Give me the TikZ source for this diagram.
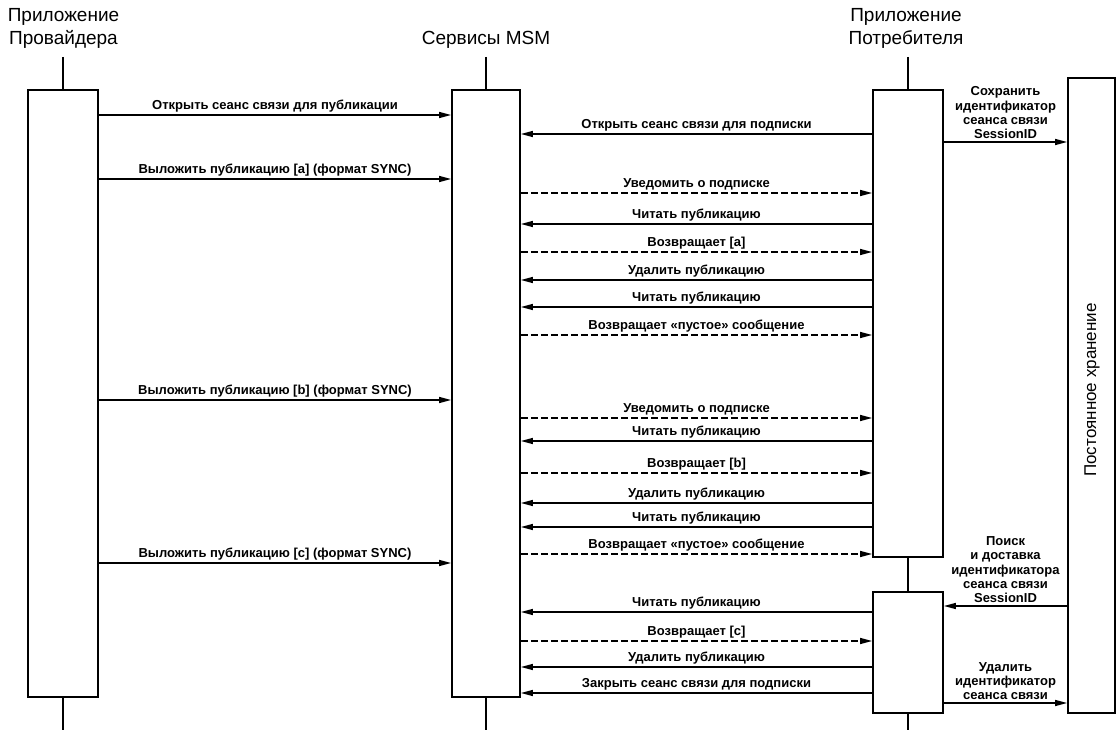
\documentclass[tikz,border=0pt]{standalone}
\usepackage{fontspec}
\setmainfont{Liberation Sans}
\usetikzlibrary{arrows.meta}

\begin{document}
\begin{tikzpicture}[x=1pt, y=-1pt,
		box/.style={draw, line width=1.8pt, inner sep=0pt},
		life/.style={line width=1.8pt},
		msg/.style={-{Triangle[length=12pt,width=6pt]}, line width=1.4pt},
		ret/.style={msg, dash pattern=on 7pt off 3pt},
		lbl/.style={midway, above, inner sep=2.5pt, align=center, font=\fontsize{13}{14.3}\selectfont\bfseries},
		head/.style={inner sep=0pt, align=center, font=\fontsize{19}{22.5}\selectfont}]
		\useasboundingbox (0,0) rectangle (1119,730);
		\node[head] (provhead) at (63.5,28.5) {Приложение\\Провайдера};
		\node[head] (msmhead) at (486,40) {Сервисы MSM};
		\node[head] (conshead) at (906,28.5) {Приложение\\Потребителя};
		\node[box, minimum width=70pt, minimum height=607pt] (prov) at (63,393.5) {};
		\node[box, minimum width=68pt, minimum height=607pt] (msm) at (486,393.5) {};
		\node[box, minimum width=70pt, minimum height=467pt] (cons1) at (908,323.5) {};
		\node[box, minimum width=70pt, minimum height=121pt] (cons2) at (908,652.5) {};
		\node[box, minimum width=47pt, minimum height=635pt] (store) at (1091.5,395.5) {};
		\node[rotate=90, inner sep=0pt, font=\fontsize{17}{19}\selectfont] (storetxt) at (1092,390) {Постоянное хранение};
		\coordinate (provtop) at (63,57);
		\coordinate (provend) at (63,730);
		\coordinate (msmtop) at (486,57);
		\coordinate (msmend) at (486,730);
		\coordinate (constop) at (908,57);
		\coordinate (consend) at (908,730);
		\draw[life] (provtop) -- (prov.north) (prov.south) -- (provend);
		\draw[life] (msmtop) -- (msm.north) (msm.south) -- (msmend);
		\draw[life] (constop) -- (cons1.north) (cons1.south) -- (cons2.north) (cons2.south) -- (consend);
		\draw[msg] (prov.east |- 0,115) -- (msm.west |- 0,115) node[lbl] {Открыть сеанс связи для публикации};
		\draw[msg] (cons1.west |- 0,134) -- (msm.east |- 0,134) node[lbl] {Открыть сеанс связи для подписки};
		\draw[msg] (cons1.east |- 0,142) -- (store.west |- 0,142) node[lbl] {Сохранить\\идентификатор\\сеанса связи\\SessionID};
		\draw[msg] (prov.east |- 0,179) -- (msm.west |- 0,179) node[lbl] {Выложить публикацию [a] (формат SYNC)};
		\draw[ret] (msm.east |- 0,193) -- (cons1.west |- 0,193) node[lbl] {Уведомить о подписке};
		\draw[msg] (cons1.west |- 0,224) -- (msm.east |- 0,224) node[lbl] {Читать публикацию};
		\draw[ret] (msm.east |- 0,252) -- (cons1.west |- 0,252) node[lbl] {Возвращает [a]};
		\draw[msg] (cons1.west |- 0,280) -- (msm.east |- 0,280) node[lbl] {Удалить публикацию};
		\draw[msg] (cons1.west |- 0,307) -- (msm.east |- 0,307) node[lbl] {Читать публикацию};
		\draw[ret] (msm.east |- 0,335) -- (cons1.west |- 0,335) node[lbl] {Возвращает «пустое» сообщение};
		\draw[msg] (prov.east |- 0,400) -- (msm.west |- 0,400) node[lbl] {Выложить публикацию [b] (формат SYNC)};
		\draw[ret] (msm.east |- 0,418) -- (cons1.west |- 0,418) node[lbl] {Уведомить о подписке};
		\draw[msg] (cons1.west |- 0,441) -- (msm.east |- 0,441) node[lbl] {Читать публикацию};
		\draw[ret] (msm.east |- 0,473) -- (cons1.west |- 0,473) node[lbl] {Возвращает [b]};
		\draw[msg] (cons1.west |- 0,503) -- (msm.east |- 0,503) node[lbl] {Удалить публикацию};
		\draw[msg] (cons1.west |- 0,527) -- (msm.east |- 0,527) node[lbl] {Читать публикацию};
		\draw[ret] (msm.east |- 0,554) -- (cons1.west |- 0,554) node[lbl] {Возвращает «пустое» сообщение};
		\draw[msg] (prov.east |- 0,563) -- (msm.west |- 0,563) node[lbl] {Выложить публикацию [c] (формат SYNC)};
		\draw[msg] (store.west |- 0,606) -- (cons2.east |- 0,606) node[lbl] {Поиск\\и доставка\\идентификатора\\сеанса связи\\SessionID};
		\draw[msg] (cons2.west |- 0,612) -- (msm.east |- 0,612) node[lbl] {Читать публикацию};
		\draw[ret] (msm.east |- 0,641) -- (cons2.west |- 0,641) node[lbl] {Возвращает [c]};
		\draw[msg] (cons2.west |- 0,667) -- (msm.east |- 0,667) node[lbl] {Удалить публикацию};
		\draw[msg] (cons2.west |- 0,693) -- (msm.east |- 0,693) node[lbl] {Закрыть сеанс связи для подписки};
		\draw[msg] (cons2.east |- 0,703) -- (store.west |- 0,703) node[lbl] {Удалить\\идентификатор\\сеанса связи};
		\end{tikzpicture}
\end{document}
